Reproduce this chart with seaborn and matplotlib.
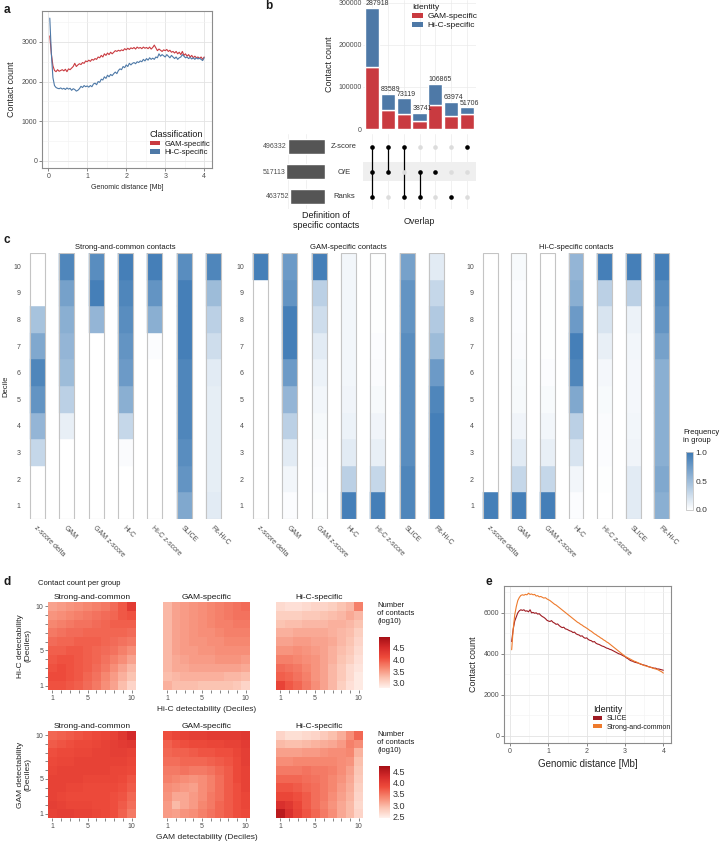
import numpy as np
import pandas as pd
import matplotlib
matplotlib.use("Agg")
import matplotlib.pyplot as plt
import seaborn as sns
from matplotlib.colors import LinearSegmentedColormap
from matplotlib.patches import Patch

# ---------------- data ----------------
# panel a / e : genomic distance bins (Mb)
distance_mb = [round(0.04 * i, 2) for i in range(1, 101)]

gam_specific_cc = [3150, 2700, 2400, 2280, 2250, 2300, 2260, 2280, 2300, 2270,
                   2310, 2250, 2320, 2300, 2340, 2380, 2460, 2380, 2420, 2450,
                   2430, 2480, 2460, 2520, 2500, 2540, 2510, 2560, 2540, 2580,
                   2560, 2620, 2600, 2660, 2620, 2700, 2660, 2720, 2680, 2740,
                   2700, 2740, 2780, 2760, 2790, 2770, 2800, 2780, 2830, 2800,
                   2840, 2810, 2850, 2830, 2860, 2820, 2870, 2840, 2860, 2830,
                   2870, 2840, 2860, 2830, 2870, 2820, 2860, 2920, 2850, 2780,
                   2820, 2790, 2760, 2800, 2780, 2810, 2760, 2790, 2740, 2760,
                   2720, 2760, 2700, 2740, 2680, 2760, 2660, 2700, 2640, 2680,
                   2620, 2660, 2600, 2640, 2600, 2620, 2580, 2620, 2560, 2620]
hic_specific_cc = [3600, 2700, 2100, 1900, 1850, 1830, 1820, 1840, 1810, 1830,
                   1800, 1840, 1810, 1830, 1780, 1820, 1800, 1760, 1780, 1820,
                   1880, 1850, 1900, 1870, 1890, 1860, 1900, 1870, 1940, 1960,
                   1920, 2000, 1980, 2060, 2040, 2120, 2080, 2160, 2120, 2180,
                   2150, 2200, 2240, 2200, 2280, 2320, 2300, 2380, 2350, 2420,
                   2380, 2460, 2420, 2460, 2480, 2450, 2500, 2480, 2520, 2500,
                   2560, 2520, 2580, 2540, 2600, 2560, 2590, 2560, 2620, 2600,
                   2700, 2640, 2680, 2650, 2620, 2680, 2640, 2600, 2660, 2620,
                   2580, 2620, 2560, 2600, 2620, 2680, 2640, 2600, 2620, 2580,
                   2610, 2570, 2600, 2560, 2600, 2570, 2590, 2560, 2530, 2600]
slice_cc = [4600, 5200, 5600, 5800, 6000, 6100, 6150, 6120, 6150, 6080,
            6100, 6050, 6150, 6000, 6020, 5980, 6000, 5940, 5960, 5880,
            5820, 5780, 5720, 5640, 5600, 5580, 5620, 5540, 5500, 5440,
            5460, 5380, 5320, 5280, 5300, 5220, 5200, 5160, 5120, 5100,
            5040, 5060, 4980, 4940, 4920, 4860, 4880, 4800, 4760, 4780,
            4700, 4660, 4640, 4580, 4600, 4520, 4480, 4460, 4420, 4380,
            4360, 4320, 4280, 4260, 4220, 4200, 4160, 4120, 4080, 4040,
            4000, 3980, 3940, 3900, 3860, 3800, 3760, 3700, 3660, 3640,
            3600, 3580, 3560, 3540, 3500, 3480, 3460, 3440, 3420, 3380,
            3360, 3340, 3320, 3300, 3300, 3260, 3260, 3240, 3220, 3200]
strong_common_cc = [4200, 5200, 5900, 6300, 6600, 6750, 6850, 6880, 6860, 6900,
                    6880, 6960, 6900, 6920, 6880, 6900, 6820, 6840, 6780, 6800,
                    6760, 6720, 6740, 6680, 6640, 6600, 6540, 6480, 6420, 6380,
                    6320, 6260, 6200, 6140, 6080, 6020, 5960, 5900, 5840, 5780,
                    5720, 5660, 5600, 5540, 5500, 5440, 5400, 5340, 5300, 5250,
                    5200, 5140, 5100, 5040, 4980, 4940, 4880, 4840, 4780, 4740,
                    4680, 4640, 4580, 4540, 4480, 4420, 4360, 4300, 4240, 4180,
                    4120, 4060, 4000, 3940, 3880, 3840, 3800, 3760, 3720, 3680,
                    3640, 3620, 3580, 3540, 3520, 3480, 3440, 3420, 3400, 3380,
                    3360, 3340, 3300, 3280, 3260, 3240, 3200, 3160, 3120, 3060]

# panel b : upset
overlap_total = [287918, 83589, 73119, 38741, 106865, 63974, 51706]
overlap_gam = [147000, 46000, 36000, 18000, 56000, 31000, 36000]
set_names = ['Z-score', 'O/E', 'Ranks']
set_sizes = [496332, 517113, 463752]
membership = [[1, 1, 1], [1, 1, 0], [1, 0, 1], [0, 1, 1], [0, 1, 0], [0, 0, 1], [1, 0, 0]]

# panel c : frequency per decile (deciles 1..10), one list per method
methods = ['z-score delta', 'GAM', 'GAM z-score', 'Hi-C', 'Hi-C z-score', 'SLICE', 'Fit-Hi-C']
deciles = list(range(1, 11))
strong_common_freq = [
    [0, 0, 0.3, 0.55, 0.8, 0.9, 0.65, 0.45, 0, 0],
    [0, 0, 0, 0.12, 0.35, 0.5, 0.55, 0.6, 0.7, 0.9],
    [0, 0, 0, 0, 0, 0, 0, 0.55, 0.95, 0.85],
    [0, 0, 0.03, 0.3, 0.6, 0.75, 0.8, 0.85, 0.9, 0.95],
    [0, 0, 0, 0, 0, 0, 0.02, 0.6, 0.8, 0.95],
    [0.65, 0.8, 0.85, 0.9, 0.9, 0.9, 0.95, 0.95, 0.95, 0.85],
    [0.15, 0.13, 0.13, 0.13, 0.13, 0.15, 0.25, 0.35, 0.5, 0.9]]
gam_specific_freq = [
    [0, 0, 0, 0, 0, 0, 0, 0, 0, 0.95],
    [0.02, 0.07, 0.15, 0.35, 0.55, 0.75, 0.95, 0.95, 0.8, 0.75],
    [0.01, 0.02, 0.03, 0.05, 0.07, 0.1, 0.15, 0.25, 0.35, 0.95],
    [0.95, 0.35, 0.15, 0.1, 0.08, 0.07, 0.07, 0.07, 0.07, 0.07],
    [0.95, 0.3, 0.12, 0.08, 0.05, 0.03, 0.02, 0.01, 0.01, 0.01],
    [0.9, 0.9, 0.85, 0.85, 0.85, 0.85, 0.85, 0.8, 0.8, 0.7],
    [0.95, 0.95, 0.95, 0.95, 0.9, 0.75, 0.5, 0.4, 0.3, 0.15]]
hic_specific_freq = [
    [0.95, 0, 0, 0, 0, 0, 0, 0, 0, 0],
    [0.95, 0.3, 0.15, 0.08, 0.05, 0.04, 0.03, 0.02, 0.02, 0.04],
    [0.95, 0.3, 0.12, 0.07, 0.04, 0.02, 0.01, 0.01, 0.01, 0],
    [0.02, 0.07, 0.2, 0.35, 0.65, 0.9, 0.95, 0.75, 0.6, 0.55],
    [0, 0.01, 0.02, 0.03, 0.04, 0.06, 0.12, 0.2, 0.35, 0.95],
    [0.15, 0.15, 0.08, 0.07, 0.06, 0.06, 0.07, 0.1, 0.35, 0.95],
    [0.6, 0.65, 0.6, 0.6, 0.6, 0.6, 0.7, 0.8, 0.85, 0.95]]

# panel d : log10 contact counts, rows = decile 10 (top) .. 1 (bottom), cols = decile 1..10
hic_strong_common = [
    [3.45, 3.5, 3.55, 3.6, 3.65, 3.7, 3.75, 3.85, 4.0, 4.3],
    [3.55, 3.6, 3.65, 3.7, 3.75, 3.8, 3.85, 3.9, 4.0, 4.05],
    [3.65, 3.7, 3.75, 3.8, 3.8, 3.85, 3.9, 3.95, 3.95, 3.95],
    [3.75, 3.8, 3.85, 3.85, 3.9, 3.9, 3.9, 3.9, 3.9, 3.85],
    [3.85, 3.9, 3.9, 3.95, 3.95, 3.95, 3.9, 3.85, 3.8, 3.75],
    [3.95, 3.95, 4.0, 4.0, 3.95, 3.9, 3.85, 3.8, 3.7, 3.6],
    [4.0, 4.05, 4.05, 4.0, 3.95, 3.9, 3.8, 3.7, 3.6, 3.45],
    [4.05, 4.1, 4.05, 4.0, 3.95, 3.85, 3.75, 3.6, 3.45, 3.3],
    [4.1, 4.1, 4.05, 4.0, 3.9, 3.8, 3.65, 3.5, 3.35, 3.2],
    [4.05, 4.05, 4.0, 3.95, 3.85, 3.75, 3.6, 3.45, 3.25, 3.05]]
hic_gam_specific = [
    [3.3, 3.45, 3.5, 3.55, 3.6, 3.65, 3.7, 3.75, 3.8, 3.85],
    [3.3, 3.45, 3.5, 3.55, 3.6, 3.65, 3.7, 3.75, 3.8, 3.8],
    [3.3, 3.45, 3.5, 3.55, 3.6, 3.65, 3.7, 3.7, 3.75, 3.75],
    [3.3, 3.45, 3.5, 3.55, 3.6, 3.6, 3.65, 3.7, 3.7, 3.7],
    [3.3, 3.45, 3.5, 3.55, 3.55, 3.6, 3.6, 3.65, 3.65, 3.65],
    [3.3, 3.45, 3.5, 3.5, 3.55, 3.55, 3.6, 3.6, 3.6, 3.6],
    [3.3, 3.4, 3.45, 3.5, 3.5, 3.5, 3.55, 3.55, 3.55, 3.5],
    [3.3, 3.4, 3.4, 3.45, 3.45, 3.45, 3.45, 3.45, 3.45, 3.4],
    [3.25, 3.3, 3.35, 3.35, 3.35, 3.35, 3.35, 3.3, 3.3, 3.25],
    [3.35, 3.25, 3.25, 3.25, 3.2, 3.2, 3.2, 3.2, 3.15, 3.05]]
hic_hic_specific = [
    [3.0, 2.95, 2.95, 3.0, 3.05, 3.05, 3.1, 3.2, 3.3, 3.7],
    [3.1, 3.1, 3.1, 3.15, 3.15, 3.2, 3.25, 3.3, 3.4, 3.3],
    [3.2, 3.25, 3.25, 3.3, 3.3, 3.3, 3.35, 3.35, 3.3, 3.2],
    [3.35, 3.35, 3.4, 3.4, 3.4, 3.4, 3.35, 3.3, 3.25, 3.1],
    [3.45, 3.45, 3.5, 3.5, 3.45, 3.45, 3.4, 3.3, 3.2, 3.05],
    [3.55, 3.55, 3.6, 3.55, 3.5, 3.45, 3.35, 3.25, 3.15, 3.0],
    [3.7, 3.7, 3.65, 3.6, 3.55, 3.45, 3.35, 3.2, 3.1, 2.95],
    [3.85, 3.8, 3.75, 3.65, 3.55, 3.45, 3.3, 3.15, 3.0, 2.9],
    [3.95, 3.9, 3.8, 3.7, 3.55, 3.45, 3.3, 3.15, 3.0, 2.85],
    [4.2, 4.0, 3.9, 3.75, 3.6, 3.45, 3.3, 3.1, 2.95, 2.85]]
gam_strong_common = [
    [3.6, 3.65, 3.7, 3.75, 3.8, 3.85, 3.9, 3.95, 4.1, 4.3],
    [3.7, 3.75, 3.8, 3.85, 3.85, 3.9, 3.95, 4.0, 4.05, 4.1],
    [3.8, 3.85, 3.85, 3.9, 3.9, 3.95, 3.95, 4.0, 4.0, 3.95],
    [3.85, 3.9, 3.9, 3.95, 3.95, 3.95, 3.95, 3.95, 3.95, 3.9],
    [3.9, 3.95, 3.95, 3.95, 3.95, 3.95, 3.95, 3.9, 3.9, 3.85],
    [3.95, 3.95, 3.95, 3.95, 3.9, 3.9, 3.9, 3.9, 3.85, 3.75],
    [3.95, 3.95, 3.9, 3.9, 3.85, 3.85, 3.85, 3.85, 3.8, 3.7],
    [3.95, 3.9, 3.85, 3.85, 3.85, 3.85, 3.85, 3.8, 3.75, 3.6],
    [4.0, 3.95, 3.9, 3.9, 3.9, 3.85, 3.85, 3.8, 3.7, 3.55],
    [3.95, 4.0, 4.0, 3.95, 3.95, 3.9, 3.85, 3.8, 3.65, 3.45]]
gam_gam_specific = [
    [3.8, 3.9, 3.95, 4.0, 4.0, 4.05, 4.05, 4.05, 4.05, 4.1],
    [3.65, 3.75, 3.8, 3.85, 3.85, 3.9, 3.9, 3.95, 3.95, 4.05],
    [3.6, 3.65, 3.65, 3.7, 3.75, 3.75, 3.8, 3.8, 3.9, 4.0],
    [3.55, 3.55, 3.6, 3.6, 3.6, 3.65, 3.7, 3.75, 3.85, 4.0],
    [3.45, 3.45, 3.5, 3.45, 3.45, 3.5, 3.6, 3.7, 3.85, 3.95],
    [3.4, 3.35, 3.3, 3.25, 3.3, 3.4, 3.55, 3.7, 3.85, 3.95],
    [3.3, 3.25, 3.2, 3.15, 3.3, 3.4, 3.55, 3.7, 3.8, 3.95],
    [3.25, 3.1, 3.1, 3.2, 3.3, 3.45, 3.55, 3.7, 3.8, 3.9],
    [3.2, 2.95, 3.1, 3.2, 3.35, 3.45, 3.6, 3.7, 3.8, 3.9],
    [3.2, 3.15, 3.25, 3.3, 3.4, 3.5, 3.6, 3.7, 3.8, 3.85]]
gam_hic_specific = [
    [2.7, 2.6, 2.6, 2.65, 2.7, 2.8, 2.9, 3.05, 3.3, 3.6],
    [2.95, 2.9, 2.9, 2.95, 3.0, 3.05, 3.1, 3.2, 3.4, 3.3],
    [3.15, 3.15, 3.15, 3.2, 3.2, 3.25, 3.3, 3.3, 3.35, 3.0],
    [3.3, 3.3, 3.35, 3.35, 3.35, 3.35, 3.35, 3.3, 3.25, 2.9],
    [3.45, 3.45, 3.45, 3.5, 3.45, 3.45, 3.4, 3.3, 3.15, 2.85],
    [3.6, 3.6, 3.6, 3.55, 3.5, 3.45, 3.35, 3.25, 3.1, 2.8],
    [3.75, 3.75, 3.7, 3.6, 3.55, 3.45, 3.35, 3.2, 3.05, 2.75],
    [3.9, 3.9, 3.8, 3.7, 3.55, 3.45, 3.3, 3.15, 3.0, 2.7],
    [4.2, 4.1, 3.9, 3.7, 3.55, 3.4, 3.25, 3.1, 2.95, 2.65],
    [4.55, 4.2, 3.95, 3.75, 3.6, 3.45, 3.3, 3.1, 2.95, 2.7]]
group_titles = ['Strong-and-common', 'GAM-specific', 'Hi-C-specific']

# ---------------- style ----------------
W, H = 722, 846
sns.set_theme(style="white")
plt.rcParams['font.family'] = ['Liberation Sans', 'DejaVu Sans']
plt.rcParams['text.color'] = '#1A1A1A'
RED, BLUE = '#C93A40', '#4E79A7'
TXT = '#4D4D4D'

fig = plt.figure(figsize=(W / 100, H / 100), dpi=100)
fig.patch.set_facecolor('white')


def box(x0, y0, x1, y1):
    return [x0 / W, 1 - y1 / H, (x1 - x0) / W, (y1 - y0) / H]


def fpos(x, y):
    return (x / W, 1 - y / H)


def gg_bw(ax, xt, yt, xminor, yminor):
    for s in ax.spines.values():
        s.set_visible(True)
        s.set_color('#8C8C8C')
        s.set_linewidth(0.8)
    ax.set_xticks(xt)
    ax.set_yticks(yt)
    ax.set_xticks(xminor, minor=True)
    ax.set_yticks(yminor, minor=True)
    ax.grid(True, which='major', color='#E3E3E3', lw=0.6)
    ax.grid(True, which='minor', color='#F2F2F2', lw=0.4)
    ax.tick_params(which='major', bottom=True, left=True, length=2, width=0.5, color='#555555',
                   labelsize=5, pad=1.5, labelcolor=TXT)
    ax.tick_params(which='minor', length=0)
    ax.set_axisbelow(True)


def key_legend(ax, labels, colors, title, anchor, fs=5.5, tfs=6.5):
    handles = [Patch(facecolor=c, edgecolor='none') for c in colors]
    leg = ax.legend(handles, labels, title=title, loc='upper left', bbox_to_anchor=fpos(*anchor),
                    bbox_transform=fig.transFigure, frameon=False, fontsize=fs, title_fontsize=tfs,
                    handlelength=1.3, handleheight=0.55, handletextpad=0.6, labelspacing=0.2,
                    borderpad=0, borderaxespad=0)
    leg._legend_box.align = 'left'
    return leg


# ---------------- panel a ----------------
ax = fig.add_axes(box(42, 11, 212, 168))
dfa = pd.DataFrame({'dist': distance_mb * 2,
                    'count': gam_specific_cc + hic_specific_cc,
                    'cls': ['GAM-specific'] * 100 + ['Hi-C-specific'] * 100})
sns.lineplot(data=dfa, x='dist', y='count', hue='cls', palette={'GAM-specific': RED, 'Hi-C-specific': BLUE},
             lw=0.8, legend=False, ax=ax)
ax.set_xlim(-0.16, 4.2)
ax.set_ylim(-180, 3780)
gg_bw(ax, [0, 1, 2, 3, 4], [0, 1000, 2000, 3000], [0.5, 1.5, 2.5, 3.5], [500, 1500, 2500, 3500])
ax.set_xlabel('Genomic distance [Mb]', fontsize=5, labelpad=3)
ax.set_ylabel('Contact count', fontsize=6.5, labelpad=4)
key_legend(ax, ['GAM-specific', 'Hi-C-specific'], [RED, BLUE], 'Classification', (150, 130))

# ---------------- panel b ----------------
xpos = np.arange(len(overlap_total))
axb = fig.add_axes(box(363, 0, 476, 129))
hic_part = [t - g for t, g in zip(overlap_total, overlap_gam)]
axb.bar(xpos, overlap_gam, width=0.9, color=RED)
axb.bar(xpos, hic_part, bottom=overlap_gam, width=0.9, color=BLUE)
for x, t in zip(xpos, overlap_total):
    axb.text(x - 0.45, t + 1500, str(t), ha='left', va='bottom', fontsize=5, color='#333333', clip_on=False)
axb.set_xlim(-0.6, 6.6)
axb.set_ylim(0, 307000)
sns.despine(ax=axb, left=True, bottom=True)
axb.set_xticks(xpos)
axb.set_xticklabels([])
axb.set_yticks([0, 100000, 200000, 300000])
axb.grid(True, color='#EBEBEB', lw=0.5)
axb.set_axisbelow(True)
axb.tick_params(length=0, labelsize=5, labelcolor=TXT, pad=1)
axb.set_ylabel('Contact count', fontsize=6.5, labelpad=3)
key_legend(axb, ['GAM-specific', 'Hi-C-specific'], [RED, BLUE], 'Identity', (412, 4), fs=6, tfs=6)

axm = fig.add_axes(box(363, 134.5, 476, 209.5))
axm.axhspan(0.62, 1.38, color='#EFEFEF', lw=0)
for j, mem in enumerate(membership):
    rows = [2 - i for i, m in enumerate(mem) if m]
    for i, m in enumerate(mem):
        axm.scatter(j, 2 - i, s=11, color='black' if m else '#DCDCDC', zorder=3, lw=0)
    if len(rows) > 1:
        axm.plot([j, j], [min(rows), max(rows)], color='black', lw=0.9, zorder=2)
axm.set_xlim(-0.6, 6.6)
axm.set_ylim(-0.5, 2.5)
axm.set_xticks(xpos)
axm.set_yticks([0, 1, 2])
axm.set_xticklabels([])
axm.set_yticklabels([])
axm.grid(True, axis='x', color='#EBEBEB', lw=0.5)
axm.set_axisbelow(True)
axm.tick_params(length=0)
sns.despine(ax=axm, left=True, bottom=True)
axm.set_xlabel('Overlap', fontsize=6.5, labelpad=2)

axs = fig.add_axes(box(283, 134.5, 325, 209.5))
ypos = [2, 1, 0]
axs.barh(ypos, set_sizes, height=0.6, color='#555555')
for y, v in zip(ypos, set_sizes):
    axs.text(v + 14000, y, str(v), ha='right', va='center', fontsize=5, color=TXT)
axs.set_xlim(560000, 0)
axs.set_ylim(-0.5, 2.5)
axs.set_xticks([0, 250000, 500000])
axs.set_xticklabels([])
axs.set_yticks([])
axs.grid(True, axis='x', color='#EBEBEB', lw=0.5)
axs.set_axisbelow(True)
axs.tick_params(length=0)
sns.despine(ax=axs, left=True, bottom=True)
for y, name in zip(ypos, set_names):
    axs.text(1.0 + 19 / 42, y, name, transform=axs.get_yaxis_transform(), ha='center', va='center',
             fontsize=5.5, color='#333333')
fig.text(326 / W, 1 - 211 / H, 'Definition of\nspecific contacts', ha='center', va='top', fontsize=6.5,
         linespacing=1.1)

# ---------------- panel c ----------------
blue_cmap = LinearSegmentedColormap.from_list('freq', ['#FFFFFF', '#3C79B4'])
c_groups = [('Strong-and-common contacts', strong_common_freq, (22.9, 228.1)),
            ('GAM-specific contacts', gam_specific_freq, (245.9, 451.1)),
            ('Hi-C-specific contacts', hic_specific_freq, (476.0, 676.0))]
for k, (title, freq, (x0, x1)) in enumerate(c_groups):
    axc = fig.add_axes(box(x0, 253, x1, 519))
    for j, col in enumerate(freq):
        cols = blue_cmap(np.array(col))
        axc.bar([j] * 10, [1] * 10, bottom=np.array(deciles) - 0.5, width=0.52, color=cols,
                edgecolor=cols, lw=0.3)
        axc.bar(j, 10, bottom=0.5, width=0.52, fill=False, edgecolor='#C4C4C4', lw=0.8)
    axc.set_xlim(-0.5, 6.5)
    axc.set_ylim(0.5, 10.5)
    axc.set_yticks(deciles)
    axc.set_yticklabels([str(d) for d in deciles], fontsize=5, color=TXT)
    axc.set_xticks(range(7))
    axc.set_xticklabels(methods, rotation=-45, ha='left', va='top', rotation_mode='anchor',
                        fontsize=5, color=TXT)
    axc.tick_params(axis='y', length=0, pad=1.5)
    axc.tick_params(axis='x', length=0, pad=4)
    sns.despine(ax=axc, left=True, bottom=True)
    axc.set_title(title, fontsize=5.5, pad=3)
    if k == 0:
        axc.set_ylabel('Decile', fontsize=5.5, labelpad=3)

cax_c = fig.add_axes(box(686, 452, 693, 510))
sm = plt.cm.ScalarMappable(cmap=blue_cmap, norm=plt.Normalize(0, 1))
cb = fig.colorbar(sm, cax=cax_c)
cb.set_ticks([0, 0.5, 1.0])
cb.set_ticklabels(['0.0', '0.5', '1.0'])
cb.ax.tick_params(length=0, labelsize=6, pad=2, labelcolor='#333333')
cb.outline.set_edgecolor('#C4C4C4')
cb.outline.set_linewidth(0.6)
fig.text(683 / W, 1 - 429 / H, 'Frequency\nin group', ha='left', va='top', fontsize=5.5, linespacing=1.1)

# ---------------- panel d ----------------
reds_cmap = LinearSegmentedColormap.from_list(
    'cnt', ['#FFF1EC', '#FBC2B0', '#F6866F', '#EE4B3B', '#D42A2A', '#A50F15'])
d_rows = [([hic_strong_common, hic_gam_specific, hic_hic_specific], (602, 690), (2.78, 4.97),
           [3.0, 3.5, 4.0, 4.5], (637, 688), 'Hi-C detectability'),
          ([gam_strong_common, gam_gam_specific, gam_hic_specific], (731, 818), (2.41, 4.77),
           [2.5, 3.0, 3.5, 4.0, 4.5], (766, 818), 'GAM detectability')]
d_x = [(48, 136), (163, 250), (276, 363)]
tick_lab = ['1', '', '', '', '5', '', '', '', '', '10']
for mats, (y0, y1), (vmin, vmax), cticks, (cy0, cy1), axis_name in d_rows:
    cax = fig.add_axes(box(379, cy0, 390, cy1))
    for i, (mat, (x0, x1)) in enumerate(zip(mats, d_x)):
        axd = fig.add_axes(box(x0, y0, x1, y1))
        sns.heatmap(np.array(mat), ax=axd, cmap=reds_cmap, vmin=vmin, vmax=vmax,
                    cbar=(i == 0), cbar_ax=cax if i == 0 else None,
                    xticklabels=False, yticklabels=False)
        axd.set_xticks(np.arange(10) + 0.5)
        axd.set_xticklabels(tick_lab)
        axd.tick_params(axis='x', bottom=True, length=2, width=0.5, color='#555555', labelsize=5,
                        labelcolor=TXT, pad=1.5)
        if i == 0:
            axd.set_yticks(np.arange(10) + 0.5)
            axd.set_yticklabels(tick_lab[::-1], rotation=0)
            axd.tick_params(axis='y', left=True, length=2, width=0.5, color='#555555', labelsize=5,
                            labelcolor=TXT, pad=1.5)
            axd.set_ylabel(axis_name + '\n(Deciles)', fontsize=6, labelpad=3, linespacing=1.1)
        axd.set_title(group_titles[i], fontsize=6, pad=2)
        if i == 1:
            axd.set_xlabel(axis_name + ' (Deciles)', fontsize=6, labelpad=3)
    cax.set_yticks(cticks)
    cax.set_yticklabels([f'{t:.1f}' for t in cticks])
    cax.tick_params(length=0, labelsize=6.5, pad=2, labelcolor='#333333')
    fig.text(377 / W, 1 - (cy0 - 35) / H, 'Number\nof contacts\n(log10)', ha='left', va='top',
             fontsize=5.5, linespacing=1.15)
fig.text(38 / W, 1 - 583 / H, 'Contact count per group', ha='left', va='center', fontsize=5.5)

# ---------------- panel e ----------------
axe = fig.add_axes(box(504, 586, 671, 743))
SLICE_C, SAC_C = '#9E1A22', '#EE7A2C'
dfe = pd.DataFrame({'dist': distance_mb * 2,
                    'count': slice_cc + strong_common_cc,
                    'ident': ['SLICE'] * 100 + ['Strong-and-common'] * 100})
sns.lineplot(data=dfe, x='dist', y='count', hue='ident',
             palette={'SLICE': SLICE_C, 'Strong-and-common': SAC_C}, lw=0.8, legend=False, ax=axe)
axe.set_xlim(-0.16, 4.2)
axe.set_ylim(-350, 7310)
gg_bw(axe, [0, 1, 2, 3, 4], [0, 2000, 4000, 6000], [0.5, 1.5, 2.5, 3.5], [1000, 3000, 5000, 7000])
axe.set_xlabel('Genomic distance [Mb]', fontsize=7, labelpad=3)
axe.set_ylabel('Contact count', fontsize=6.5, labelpad=4)
key_legend(axe, ['SLICE', 'Strong-and-common'], [SLICE_C, SAC_C], 'Identity', (593, 705), fs=5)

# panel letters
for letter, (x, y) in zip('abcde', [(4, 10), (265, 6), (4, 240), (4, 582), (485, 582)]):
    fig.text(x / W, 1 - y / H, letter, fontsize=8.5, fontweight='bold', ha='left', va='center')

fig.savefig('out.png', dpi=100, facecolor='white')
